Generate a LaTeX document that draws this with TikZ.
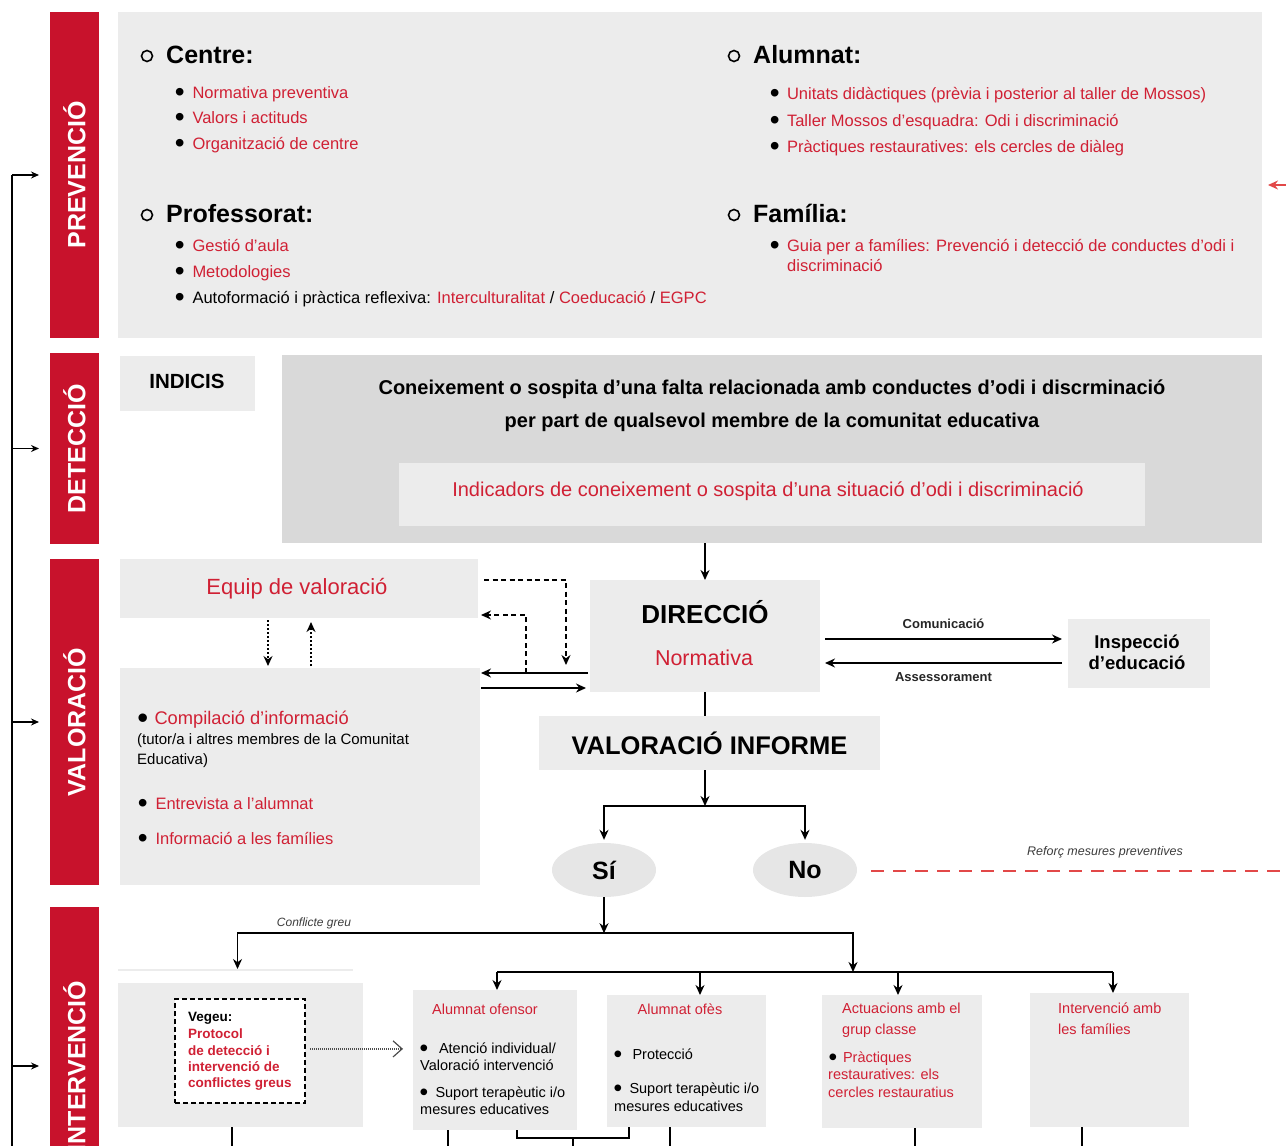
\documentclass[tikz,border=0pt]{standalone}
\usepackage{fontspec}
\setmainfont{Liberation Sans}
\usetikzlibrary{arrows.meta,shapes.geometric,calc}
\definecolor{barred}{RGB}{200,18,44}
\definecolor{txtred}{RGB}{208,32,52}
\definecolor{boxgray}{RGB}{236,236,236}
\definecolor{dkgray}{RGB}{217,217,217}
\definecolor{ellgray}{RGB}{230,230,230}
\definecolor{dashred}{RGB}{226,72,72}
\definecolor{lblgray}{RGB}{60,60,60}
\newcommand{\fsz}[1]{\fontsize{#1}{#1}\selectfont}
\newcommand{\mybul}[1][10pt]{\makebox[5.3pt][c]{\smash{\raisebox{-0.2em}{\scalebox{1.7}{\color{black}\textbullet}}}}\hspace{#1}}
\begin{document}
\begin{tikzpicture}[x=1pt,y=-1pt,
  gbox/.style={fill=boxgray, inner sep=0, outer sep=0, anchor=north west},
  rbar/.style={fill=barred, inner sep=0, outer sep=0, anchor=north west, minimum width=49pt},
  bartxt/.style={rotate=90, text=white, inner sep=0, font=\bfseries\fsz{25}},
  ring/.style={circle, draw=black, line width=1.6pt, minimum size=11pt, inner sep=0},
  head/.style={inner sep=0, anchor=base west, font=\bfseries\fsz{25}},
  itm/.style={inner sep=0, anchor=mid west, text=txtred, font=\fsz{16.5}, yshift=-3.5pt},
  sm/.style={inner sep=0, anchor=mid west, font=\fsz{14.5}, yshift=-3pt},
  vt/.style={inner sep=0, anchor=mid west, font=\bfseries\fsz{13.5}, text=txtred, yshift=-3pt},
  lbl/.style={inner sep=0, font=\bfseries\fsz{13}, text=black!85},
  lbl2/.style={inner sep=0, font=\itshape\fsz{12.5}, text=lblgray},
  ell/.style={ellipse, fill=ellgray, minimum width=104pt, minimum height=54pt, inner sep=0, font=\bfseries\fsz{25}},
  arr/.style={-{Stealth[length=10pt,width=9pt]}, line width=1.5pt},
  sarr/.style={-{Stealth[length=8pt,width=7pt]}, line width=1.3pt},
  ln/.style={line width=1.5pt},
  dsh/.style={dash pattern=on 5pt off 3.5pt, line width=1.4pt, -{Stealth[length=10pt,width=9pt]}},
  dts/.style={dash pattern=on 2pt off 2pt, line width=1.4pt, -{Stealth[length=10pt,width=9pt]}},
  dotarr/.style={dash pattern=on 1pt off 1pt, line width=1.2pt, draw=black!70, -{Straight Barb[length=9pt,width=16pt,line width=1.2pt]}},
  reddash/.style={draw=dashred, line width=2pt, dash pattern=on 13pt off 9pt},
  redarr/.style={draw=dashred, line width=2pt, -{Stealth[length=10pt,width=9pt]}}
]
\useasboundingbox (0,0) rectangle (1286,1146);
\clip (0,0) rectangle (1286,1146);

% ---------- stage bars ----------
\node[rbar, minimum height=326pt] (bar1) at (50,12) {};
\node[rbar, minimum height=191pt] (bar2) at (50,353) {};
\node[rbar, minimum height=326pt] (bar3) at (50,559) {};
\node[rbar, minimum height=318pt] (bar4) at (50,907) {};
\node[bartxt] (l1) at (bar1.center) {PREVENCIÓ};
\node[bartxt] (l2) at (bar2.center) {DETECCIÓ};
\node[bartxt] (l3) at (bar3.center) {VALORACIÓ};
\node[bartxt] (l4) at (bar4.center) {INTERVENCIÓ};

\coordinate (lb) at (12,1170);
\draw[line width=1.3pt] (lb) -- (lb |- bar1.west);
\foreach \b in {bar1,bar2,bar3,bar4}
  \draw[sarr] (lb |- \b.west) -- ([xshift=-11pt]\b.west);

% ---------- PREVENCIO ----------
\node[gbox, minimum width=1144pt, minimum height=326pt] (prev) at (118,12) {};
\node[ring] (r1) at (147,56) {};
\node[ring] (r2) at (734,56) {};
\node[ring] (r3) at (147,215) {};
\node[ring] (r4) at (734,215) {};
\node[head] (hc) at (166,63) {Centre:};
\node[head] (ha) at (753,63) {Alumnat:};
\node[head] (hp) at (166,222) {Professorat:};
\node[head] (hf) at (753,222) {Família:};

\node[itm] (c1) at (177,92) {\mybul Normativa preventiva};
\node[itm] (c2) at (177,117) {\mybul Valors i actituds};
\node[itm] (c3) at (177,143) {\mybul Organització de centre};
\node[itm] (a1) at (772,93) {\mybul[9.5pt]Unitats didàctiques (prèvia i posterior al taller de Mossos)};
\node[itm] (a2) at (772,120) {\mybul[9.5pt]Taller Mossos d'esquadra: Odi i discriminació};
\node[itm] (a3) at (772,146) {\mybul[9.5pt]Pràctiques restauratives: els cercles de diàleg};
\node[itm] (p1) at (177,245) {\mybul Gestió d'aula};
\node[itm] (p2) at (177,271) {\mybul Metodologies};
\node[itm] (p3) at (177,297) {\mybul\textcolor{black}{Autoformació i pràctica reflexiva:} Interculturalitat \textcolor{black}{/} Coeducació \textcolor{black}{/} EGPC};
\node[itm] (f1) at (772,245) {\mybul[9.5pt]Guia per a famílies: Prevenció i detecció de conductes d'odi i};
\node[itm] (f2) at (787,265) {discriminació};

% ---------- DETECCIO ----------
\node[gbox, minimum width=135pt, minimum height=55pt] (ind) at (120,356) {};
\node[inner sep=0, anchor=base, font=\bfseries\fsz{20.5}] (indt) at (187,388) {INDICIS};
\node[gbox, fill=dkgray, minimum width=980pt, minimum height=188pt] (det) at (282,355) {};
\node[inner sep=0, anchor=mid, font=\bfseries\fsz{20}, yshift=-4.5pt] (d1) at (772,387) {Coneixement o sospita d’una falta relacionada amb conductes d’odi i discrminació};
\node[inner sep=0, anchor=mid, font=\bfseries\fsz{20}, yshift=-4.5pt] (d2) at (772,420) {per part de qualsevol membre de la comunitat educativa};
\node[gbox, minimum width=746pt, minimum height=63pt] (indic) at (399,463) {};
\node[inner sep=0, anchor=mid, text=txtred, font=\fsz{20}, yshift=-4.5pt] (indict) at (768,489) {Indicadors de coneixement o sospita d'una situació d'odi i discriminació};

% ---------- VALORACIO ----------
\node[gbox, minimum width=358pt, minimum height=59pt] (equip) at (120,559) {};
\node[inner sep=0, anchor=mid, text=txtred, font=\fsz{22}, yshift=-5pt] (equipt) at (297,587) {Equip de valoració};
\node[gbox, minimum width=360pt, minimum height=217pt] (compil) at (120,668) {};
\node[itm, font=\fsz{18.3}, yshift=-0.5pt] (v1) at (140,718) {\mybul[9pt]Compilació d'informació};
\node[itm, text=black, font=\fsz{15}] (v2) at (137,738) {(tutor/a i altres membres de la Comunitat};
\node[itm, text=black, font=\fsz{15}] (v3) at (137,758) {Educativa)};
\node[itm] (v4) at (140,803) {\mybul[10pt]Entrevista a l'alumnat};
\node[itm] (v5) at (140,838) {\mybul[10pt]Informació a les famílies};

\node[gbox, minimum width=230pt, minimum height=112pt] (dir) at (590,580) {};
\node[inner sep=0, anchor=base, font=\bfseries\fsz{26}] (dirt) at (705,623) {DIRECCIÓ};
\node[inner sep=0, anchor=base, text=txtred, font=\fsz{21.5}] (normt) at (704,665) {Normativa};
\node[gbox, minimum width=142pt, minimum height=69pt] (insp) at (1068,619) {};
\node[inner sep=0, align=center, font=\bfseries\fontsize{18.5}{21}\selectfont] (inspt) at (1137,652) {Inspecció\\d’educació};
\node[gbox, minimum width=341pt, minimum height=54pt] (vinf) at (539,716) {};
\node[inner sep=0, anchor=base, font=\bfseries\fsz{25.5}] (vinft) at (709.5,754) {VALORACIÓ INFORME};
\node[ell] (si) at (604,870) {Sí};
\node[ell] (no) at (805,870) {No};

% connectors valoracio
\draw[dts] ($(equip.south west)+(148,2)$) -- ($(compil.north west)+(148,-2)$);
\draw[dts] ($(compil.north west)+(191,-2)$) -- ($(equip.south west)+(191,4)$);
\draw[dsh] ($(equip.north east)+(6,21)$) -| ($(dir.south west)+(-24,-27)$);
\draw[dsh] ($(dir.south west)+(-64,-19)$) |- ($(equip.north east)+(3,56)$);
\draw[arr] ($(dir.south west)+(-2,-19)$) -- ($(compil.north east)+(1,5)$);
\draw[arr] ($(compil.north east)+(1,20)$) -- ($(dir.south west)+(-4,-4)$);

\draw[arr] (dir.north |- det.south) -- (dir.north);
\draw[arr] ($(dir.north east)+(5,59)$) -- ($(insp.north west)+(-6,20)$) node[midway, above=10pt, lbl] (com) {Comunicació};
\draw[arr] ($(insp.north west)+(-6,44)$) -- ($(dir.north east)+(5,83)$) node[midway, below=9pt, lbl] (ass) {Assessorament};
\draw[ln] (dir.south) -- (dir.south |- vinf.north);
\coordinate (br1) at ($(dir.south |- vinf.south)+(0,36)$);
\draw[arr] (dir.south |- vinf.south) -- (br1);
\draw[arr] (br1) -| ($(si.north)+(0,-3)$);
\draw[arr] (br1) -| ($(no.north)+(0,-3)$);

\coordinate (rc1) at (1300,871);
\coordinate (rc2) at (1300,185);
\draw[reddash] ($(no.east)+(14,1)$) -- (rc1) -- (rc2);
\draw[redarr] (rc2) -- ($(prev.east |- rc2)+(6,0)$);
\node[lbl2] (ref) at (1105,852) {Reforç mesures preventives};

% ---------- INTERVENCIO ----------
\node[gbox, minimum width=245pt, minimum height=144pt] (box1) at (118,983) {};
\draw[draw=boxgray, line width=1.5pt] ($(box1.north west)+(0,-13)$) -- ++(235,0);
\node[draw, dash pattern=on 5pt off 3pt, line width=1.8pt, fill=white, inner sep=0, anchor=north west, minimum width=130pt, minimum height=104pt] (dbox) at (174,998) {};
\node[vt, text=black] (vg1) at (188,1016) {Vegeu:};
\node[vt] (vg2) at (188,1033) {Protocol};
\node[vt] (vg3) at (188,1049.5) {de detecció i};
\node[vt] (vg4) at (188,1065.5) {intervenció de};
\node[vt] (vg5) at (188,1082) {conflictes greus};

\node[gbox, minimum width=164pt, minimum height=140pt] (box2) at (413,990) {};
\node[gbox, minimum width=159pt, minimum height=132pt] (box3) at (607,995) {};
\node[gbox, minimum width=160pt, minimum height=133pt] (box4) at (822,995) {};
\node[gbox, minimum width=159pt, minimum height=134pt] (box5) at (1030,993) {};

\node[sm, anchor=mid, text=txtred] (b2t) at (485,1009) {Alumnat ofensor};
\node[sm] (b2a) at (421,1048) {\mybul[12.5pt]Atenció individual/};
\node[sm] (b2b) at (420,1065) {Valoració intervenció};
\node[sm] (b2c) at (421,1092) {\mybul[9pt]Suport terapèutic i/o};
\node[sm] (b2d) at (420,1109) {mesures educatives};

\node[sm, anchor=mid, text=txtred] (b3t) at (680,1009) {Alumnat ofès};
\node[sm] (b3a) at (615,1054) {\mybul[12pt]Protecció};
\node[sm] (b3b) at (615,1088) {\mybul[9pt]Suport terapèutic i/o};
\node[sm] (b3c) at (614,1106) {mesures educatives};

\node[sm, text=txtred] (b4a) at (842,1008) {Actuacions amb el};
\node[sm, text=txtred] (b4b) at (842,1029) {grup classe};
\node[sm, text=txtred] (b4c) at (830,1057) {\mybul[7.5pt]Pràctiques};
\node[sm, text=txtred] (b4d) at (828,1074) {restauratives: els};
\node[sm, text=txtred] (b4e) at (828,1092) {cercles restauratius};

\node[sm, text=txtred] (b5a) at (1058,1008) {Intervenció amb};
\node[sm, text=txtred] (b5b) at (1058,1029) {les famílies};

% connectors intervencio
\coordinate (br2) at ($(si.south)+(0,36)$);
\coordinate (br3) at (853,972);
\draw[arr] (si.south) -- (br2);
\draw[arr] (br2) -| ($(box1.north)+(-3,-14)$);
\draw[arr] (br2) -| (br3);
\node[lbl2, font=\itshape\fsz{12}] (cg) at (314,923) {Conflicte greu};

\coordinate (t1) at ($(box2.north)+(2,0)$);
\coordinate (t2) at ($(box3.north)+(13.5,0)$);
\coordinate (t3) at ($(box4.north)+(-4,0)$);
\coordinate (t4) at ($(box5.north)+(3.5,0)$);
\draw[ln] (t1 |- br3) -- (t4 |- br3);
\foreach \t in {t1,t2,t3,t4}
  \draw[arr] (\t |- br3) -- (\t);

\draw[dotarr] ($(dbox.east)+(4,-2)$) -- ($(box2.west |- dbox.east)+(-10,-2)$);

\coordinate (jn) at (573,1138);
\draw[ln] ($(box1.south west)+(114,0)$) -- ++(0,40);
\draw[ln] ($(box2.south west)+(35,0)$) -- ++(0,40);
\draw[ln] ($(box2.south west)+(104,0)$) |- (jn) -| ($(box3.south west)+(22,0)$);
\draw[ln] (jn) -- ++(0,30);
\draw[ln] ($(box3.south west)+(63,0)$) -- ++(0,40);
\draw[ln] ($(box4.south west)+(93,0)$) -- ++(0,40);
\draw[ln] ($(box5.south west)+(52,0)$) -- ++(0,40);
\end{tikzpicture}
\end{document}
